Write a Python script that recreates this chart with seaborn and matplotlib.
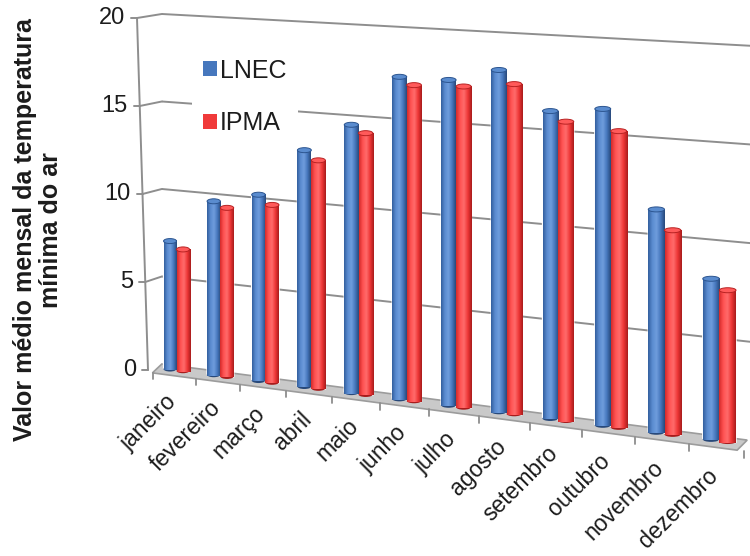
import numpy as np
import pandas as pd
import matplotlib
matplotlib.use("Agg")
import matplotlib.pyplot as plt
import seaborn as sns
from matplotlib.transforms import Transform
from matplotlib.colors import LinearSegmentedColormap, to_rgba
from matplotlib.patches import Polygon, Ellipse, Patch

# ---- data -------------------------------------------------------------
meses = ["janeiro", "fevereiro", "março", "abril", "maio", "junho",
         "julho", "agosto", "setembro", "outubro", "novembro", "dezembro"]
lnec = [7.3, 9.8, 10.4, 13.1, 14.7, 17.5, 17.5, 18.2, 16.2, 16.5, 11.5, 8.2]
ipma = [6.9, 9.5, 9.9, 12.6, 14.3, 17.1, 17.2, 17.5, 15.7, 15.4, 10.5, 7.7]
series = ["LNEC", "IPMA"]
y_ticks = [0, 5, 10, 15, 20]
y_label = "Valor médio mensal da temperatura\nmínima do ar"

# ---- style ------------------------------------------------------------
sns.set_style("white")
plt.rcParams["font.family"] = ["Liberation Sans", "DejaVu Sans"]
TEXT = "#1c1c1c"
GRID = "#8e8e8e"
colors = {"LNEC": "#4677bd", "IPMA": "#f03a3a"}
shades = {
    "LNEC": ["#335f9e", "#5a8bd0", "#6f9ddd", "#4677bd", "#28497a"],
    "IPMA": ["#d42a2a", "#ff5252", "#ff6b6b", "#ee3636", "#a81c1c"],
}
caps = {"LNEC": ("#5a8ccf", "#2c5590"), "IPMA": ("#ff5a5a", "#b82222")}


class Perspective(Transform):
    """Oblique view of the back wall: (category, value) -> canvas pixels."""
    input_dims = output_dims = 2
    is_separable = False
    has_inverse = False

    P0, PA, PC = 176.5, 43.3, 0.55            # horizontal placement of categories
    WALL_X, BASE, SLOPE = 162.0, 364.0, 0.13  # zero line on the wall
    UNIT, GROWTH = 17.5, 0.0038               # pixels per degree, widening to the right

    def __init__(self, dy=0.0):
        super().__init__()
        self.dy = dy

    def transform_non_affine(self, values):
        values = np.asarray(values, dtype=float).reshape(-1, 2)
        x, v = values[:, 0], values[:, 1]
        px = self.P0 + self.PA * x + self.PC * x ** 2
        d = px - self.WALL_X
        py = self.BASE + self.SLOPE * d - v * (self.UNIT + self.GROWTH * d) + self.dy
        return np.column_stack([px, py])


fig = plt.figure(figsize=(7.5, 5.56), dpi=100)
ax = fig.add_axes([0, 0, 1, 1])

df = pd.DataFrame({
    "mes": meses * 2,
    "valor": lnec + ipma,
    "fonte": ["LNEC"] * len(meses) + ["IPMA"] * len(meses),
})
sns.barplot(data=df, x="mes", y="valor", hue="fonte", hue_order=series,
            palette=colors, width=0.6, errorbar=None, legend=False,
            ax=ax, zorder=3)
bars = list(ax.patches)

# canvas in pixel units, y pointing down
ax.set_xlim(0, 750)
ax.set_ylim(556, 0)
ax.axis("off")

p_wall = Perspective(0.0)
p_front = Perspective(4.0)
wall = p_wall + ax.transData
front = p_front + ax.transData

# floor
floor = Polygon([(-0.34, 0), (11.5, 0), (11.32, -0.58), (-0.56, -0.58)],
                closed=True, transform=wall, facecolor="#c9c9c9",
                edgecolor="#9c9c9c", lw=1.2, zorder=2)
ax.add_patch(floor)

# wall gridlines
for v in y_ticks[1:]:
    ax.plot([-0.34, 11.9], [v, v], transform=wall, color=GRID, lw=1.4,
            zorder=1, solid_capstyle="butt")

# left axis and side-wall lines
def axis_pt(v):
    return 148.0 - 0.55 * v, 370.0 - 17.6 * v

for v in y_ticks:
    axx, axy = axis_pt(v)
    cx, cy = p_wall.transform(np.array([[-0.34, v]]))[0]
    if v > 0:
        ax.plot([axx, cx], [axy, cy], color=GRID, lw=1.4, zorder=1)
    ax.plot([axx - 6, axx], [axy, axy], color=GRID, lw=1.4, zorder=1)
    ax.text(axx - 12, axy, str(v), ha="right", va="center",
            fontsize=17, color=TEXT)
(ax0, ay0), (ax1, ay1) = axis_pt(0), axis_pt(20)
ax.plot([ax0, ax1], [ay0, ay1], color=GRID, lw=1.4, zorder=1)

# cylinders: shaded body, rounded foot, elliptic cap
for p in bars:
    fc = np.array(p.get_facecolor())
    name = min(series, key=lambda s: np.sum((np.array(to_rgba(colors[s])) - fc) ** 2))
    x0, w, h = p.get_x(), p.get_width(), p.get_height()
    p.set_transform(front)
    pts = p_front.transform(np.array([[x0, 0], [x0 + w, 0], [x0 + w / 2, h],
                                      [x0 + w / 2, 0]]))
    left, right = pts[0, 0], pts[1, 0]
    top, bottom = pts[2, 1], pts[3, 1]
    wpx = right - left
    cmap = LinearSegmentedColormap.from_list(name, shades[name])
    img = ax.imshow(np.linspace(0, 1, 64)[None, :], cmap=cmap,
                    extent=(left, right, bottom + 4, top - 4), aspect="auto",
                    interpolation="bilinear", zorder=4)
    img.set_clip_path(p)
    ax.add_patch(Ellipse((pts[3, 0], bottom), wpx, 5, facecolor=shades[name][4],
                         edgecolor="none", zorder=3.5))
    ax.add_patch(Ellipse((pts[2, 0], top), wpx, 5, facecolor=caps[name][0],
                         edgecolor=caps[name][1], lw=0.7, zorder=5))

# category ticks under the floor front edge
for b in np.arange(-0.5, len(meses), 1.0):
    ax.plot([b - 0.05, b - 0.05], [-0.58, -0.95], transform=wall, color=GRID,
            lw=1.3, zorder=2)

# category labels
for i, m in enumerate(meses):
    ax.text(i - 0.08, -1.85, m, transform=wall, rotation=45,
            rotation_mode="anchor", ha="right", va="center",
            fontsize=16.5, color=TEXT)

# legend (white box sits behind the bars but over the wall lines)
handles = [Patch(facecolor=colors[s], edgecolor="none") for s in series]
leg = ax.legend(handles=handles, labels=series, loc="upper left",
                bbox_to_anchor=(179 / 750, 1 - 35 / 556), frameon=True,
                facecolor="white", edgecolor="none", framealpha=1,
                fancybox=False, fontsize=18, handlelength=0.55,
                handleheight=0.55, handletextpad=0.15, labelspacing=1.15,
                borderpad=0.45)
for t in leg.get_texts():
    t.set_color(TEXT)
leg.set_zorder(1.5)

fig.text(38 / 750, 1 - 230 / 556, y_label, rotation=90, ha="center",
         va="center", fontsize=18, fontweight="bold", color=TEXT,
         multialignment="center", linespacing=1.1)

ax.set_xlim(0, 750)
ax.set_ylim(556, 0)
fig.savefig("out.png", dpi=100)
